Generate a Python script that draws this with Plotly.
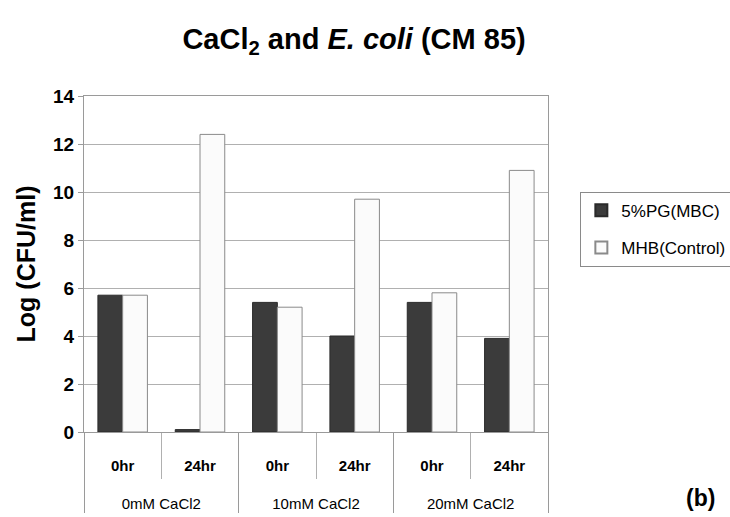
import plotly.graph_objects as go

groups = ["0mM CaCl2", "0mM CaCl2", "10mM CaCl2", "10mM CaCl2", "20mM CaCl2", "20mM CaCl2"]
times = ["0hr", "24hr", "0hr", "24hr", "0hr", "24hr"]
pg_mbc = [5.7, 0.1, 5.4, 4.0, 5.4, 3.9]
mhb_control = [5.7, 12.4, 5.2, 9.7, 5.8, 10.9]
y_ticks = [0, 2, 4, 6, 8, 10, 12, 14]

FONT = "Liberation Sans Narrow, Arial Narrow, Liberation Sans, Arial"

# multicategory labels, pushed down with leading blank lines like the reference
x_groups = ["<br><br>" + g for g in groups]
x_times = ["<br><b>" + t + "</b>" for t in times]

fig = go.Figure()
fig.add_trace(go.Bar(
    x=[x_groups, x_times], y=pg_mbc, name="5%PG(MBC)", legendgroup="a",
    marker=dict(color="#3b3b3b", line=dict(color="#2a2a2a", width=1)),
))
fig.add_trace(go.Bar(
    x=[x_groups, x_times], y=mhb_control, name="MHB(Control)", legendgroup="b",
    marker=dict(color="#fbfbfb", line=dict(color="#8a8a8a", width=1)),
))

fig.update_layout(
    width=730, height=517,
    margin=dict(l=84, r=182, t=96, b=85, autoexpand=False),
    paper_bgcolor="white", plot_bgcolor="white",
    barmode="group", bargap=0.36, bargroupgap=0.0,
    font=dict(family=FONT, color="black"),
    title=dict(
        text="<b>CaCl<sub>2</sub> and <i>E. coli</i> (CM 85)</b>",
        x=0.582, xref="paper", xanchor="center", y=0.925, yanchor="middle",
        font=dict(size=29, family=FONT, color="black"),
    ),
    legend=dict(
        x=0.795, y=0.629, xref="container", yref="container",
        xanchor="left", yanchor="top",
        bordercolor="#8a8a8a", borderwidth=1, bgcolor="white",
        font=dict(size=17, family=FONT), traceorder="grouped",
        tracegroupgap=12, itemsizing="constant",
    ),
    showlegend=True,
)
fig.update_yaxes(
    range=[0, 14], tickvals=y_ticks, automargin=False,
    showgrid=True, gridcolor="#b0b0b0", gridwidth=1,
    showline=True, linecolor="#9a9a9a", mirror=True,
    ticks="outside", ticklen=5, tickcolor="#9a9a9a",
    tickfont=dict(size=19, family=FONT, weight="bold"), zeroline=False,
    title=dict(text="<b>Log (CFU/ml)</b>", font=dict(size=25, family=FONT), standoff=10),
)
fig.update_xaxes(
    automargin=False,
    showline=True, linecolor="#9a9a9a", mirror=True,
    ticks="outside", tickson="boundaries", ticklen=46, tickcolor="#b0b0b0",
    tickfont=dict(size=15, family=FONT),
    dividercolor="#9a9a9a", dividerwidth=1,
    showdividers=True,
)
fig.add_annotation(
    text="<b>(b)</b>", x=1.328, y=-0.195, xref="paper", yref="paper",
    showarrow=False, xanchor="center", yanchor="middle",
    font=dict(size=23, family=FONT, color="black"),
)
fig.write_html("out.html", config={"displayModeBar": False},
               post_script="document.body.style.margin='0';")
